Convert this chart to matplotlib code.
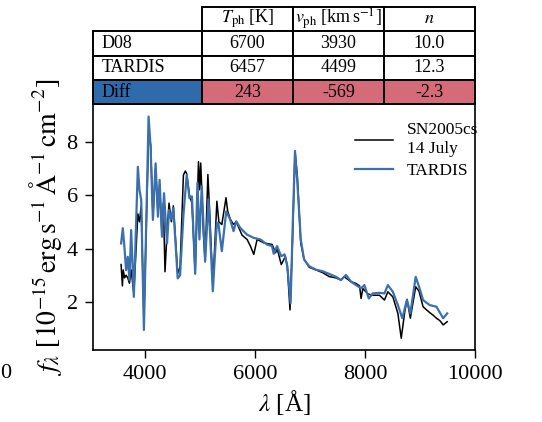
import matplotlib
matplotlib.use("Agg")
import matplotlib.pyplot as plt

plt.rcParams["font.family"] = ["Liberation Serif", "DejaVu Serif"]
plt.rcParams["mathtext.fontset"] = "stix"

# 模型光谱 (TARDIS)
wl_model = [3561, 3592, 3621, 3652, 3683, 3713, 3744, 3793, 3866, 3896, 3927, 3976,
            4061, 4098, 4140, 4189, 4232, 4262, 4305, 4342, 4397, 4433, 4470, 4512,
            4591, 4634, 4695, 4755, 4805, 4850, 4909, 4950, 4986, 5029, 5090, 5151,
            5230, 5303, 5330, 5394, 5474, 5547, 5607, 5656, 5730, 5851, 5973, 6095,
            6216, 6307, 6338, 6398, 6475, 6536, 6585, 6645, 6680, 6725, 6768, 6830,
            6890, 6982, 7104, 7225, 7347, 7470, 7561, 7653, 7744, 7836, 7927, 7988,
            8067, 8140, 8262, 8353, 8414, 8505, 8597, 8677, 8762, 8824, 8921, 8982,
            9055, 9177, 9299, 9421, 9494]
flux_model = [4.19, 4.76, 4.07, 3.19, 3.69, 2.82, 4.69, 2.19, 7.06, 6.19, 5.82, 0.95,
              8.94, 7.81, 5.07, 7.19, 5.19, 6.57, 4.44, 6.07, 4.19, 5.44, 5.10, 5.51,
              2.88, 3.00, 5.25, 6.75, 5.88, 5.95, 3.05, 6.47, 4.34, 6.33, 3.52, 5.83,
              2.40, 4.97, 4.95, 3.90, 5.39, 5.08, 4.65, 5.02, 4.77, 4.52, 4.40, 4.34,
              4.15, 4.09, 3.80, 4.09, 3.71, 3.78, 3.34, 1.95, 4.6, 7.65, 6.46, 4.34,
              3.59, 3.34, 3.21, 3.15, 3.05, 2.94, 2.82, 3.01, 2.76, 2.63, 2.51, 2.63,
              2.13, 2.32, 2.34, 2.32, 2.63, 2.38, 1.88, 1.39, 2.07, 1.57, 2.94, 2.57,
              2.07, 1.88, 1.82, 1.39, 1.57]

# 观测光谱 SN2005cs
wl_obs = [3561, 3585, 3600, 3625, 3652, 3683, 3713, 3744, 3793, 3866, 3896, 3927,
          3976, 4061, 4098, 4140, 4189, 4232, 4262, 4305, 4330, 4360, 4397, 4433,
          4476, 4512, 4591, 4634, 4695, 4730, 4755, 4805, 4850, 4909, 4969, 4990,
          5010, 5060, 5090, 5140, 5170, 5230, 5304, 5340, 5394, 5470, 5500, 5547,
          5607, 5656, 5762, 5853, 5914, 5975, 6036, 6158, 6310, 6371, 6400, 6475,
          6550, 6585, 6634, 6680, 6725, 6768, 6830, 6890, 6982, 7104, 7225, 7347,
          7470, 7561, 7620, 7744, 7836, 7900, 7927, 7960, 8050, 8140, 8262, 8353,
          8414, 8505, 8597, 8658, 8720, 8762, 8824, 8921, 8982, 9055, 9120, 9177,
          9240, 9299, 9360, 9421, 9494]
flux_obs = [3.4, 2.6, 3.2, 2.9, 3.0, 2.9, 2.7, 3.2, 2.3, 5.3, 5.0, 5.6,
            1.3, 8.2, 7.9, 5.2, 7.0, 5.3, 6.4, 4.5, 5.7, 3.13, 4.6, 5.7,
            5.0, 5.6, 3.07, 3.3, 6.75, 6.9, 6.8, 6.0, 5.7, 3.1, 7.25, 6.2,
            7.2, 4.5, 3.5, 6.77, 5.5, 2.6, 5.77, 5.0, 4.9, 5.9, 5.4, 5.1,
            4.9, 5.0, 4.5, 4.34, 4.09, 3.78, 4.34, 4.21, 4.15, 3.84, 4.0, 3.40,
            3.7, 3.34, 1.70, 4.3, 7.65, 6.7, 4.2, 3.6, 3.3, 3.2, 3.1, 2.95,
            2.9, 2.82, 2.94, 2.76, 2.69, 2.6, 2.13, 2.5, 2.3, 2.25, 2.25, 2.07,
            2.38, 2.19, 1.57, 0.64, 1.6, 2.1, 1.39, 2.57, 2.4, 1.82, 1.7, 1.6,
            1.5, 1.39, 1.3, 1.14, 1.26]

# 参数表
row_names = ["D08", "TARDIS", "Diff"]
col_names = [r"$T_{\rm ph}$ [K]", r"$v_{\rm ph}$ [km$\,$s$^{-1}$]", r"$n$"]
table_vals = [["6700", "3930", "10.0"],
              ["6457", "4499", "12.3"],
              ["243", "-569", "-2.3"]]

BLUE = "#2f6aaa"
RED = "#d56a79"

fig = plt.figure(figsize=(5.42, 4.22), dpi=100)
ax = fig.add_axes([93 / 542, 1 - 350 / 422, 382 / 542, 245.7 / 422])

ax.plot(wl_obs, flux_obs, color="black", linewidth=1.1, label="SN2005cs\n14 July")
ax.plot(wl_model, flux_model, color="#3a70ad", linewidth=1.6, label="TARDIS")

ax.set_xlim(3050, 10000)
ax.set_ylim(0.2, 9.4)
ax.set_xticks([4000, 6000, 8000, 10000])
ax.set_yticks([2, 4, 6, 8])
ax.tick_params(labelsize=16, length=6, width=1.0, direction="out", pad=5)
for sp in ax.spines.values():
    sp.set_linewidth(1.2)
ax.set_xlabel(r"$\lambda$ [Å]", fontsize=18, labelpad=3)
ax.set_ylabel(r"$f_\lambda$ [$10^{-15}\,\mathrm{erg\,s^{-1}\,\AA^{-1}\,cm^{-2}}$]",
              fontsize=20, labelpad=2)

leg = ax.legend(loc="upper right", frameon=False, fontsize=12.5, handlelength=2.2,
                bbox_to_anchor=(1.05, 0.99), labelspacing=0.35, handletextpad=0.8)

# 表格放在坐标轴上方
cell_text = [[""] + col_names] + [[r] + v for r, v in zip(row_names, table_vals)]
cell_colours = [["white"] * 4, ["white"] * 4, ["white"] * 4, [BLUE, RED, RED, RED]]
tbl = ax.table(cellText=cell_text, cellColours=cell_colours, cellLoc="center",
               colWidths=[0.285, 0.2385, 0.2385, 0.2385],
               bbox=[0.0, 1.0, 1.0, 97.6 / 245.7])
tbl.auto_set_font_size(False)
tbl.set_fontsize(13)
for (r, c), cell in tbl.get_celld().items():
    cell.set_linewidth(1.4)
    if c == 0:
        cell.get_text().set_ha("left")
        cell._loc = "left"
        cell.PAD = 0.08
    if r == 0 and c == 0:
        cell.set_visible(False)

fig.text(0.0, 1 - 373 / 422, "0", fontsize=16, va="center", ha="left")

fig.savefig("out.png", dpi=100)
